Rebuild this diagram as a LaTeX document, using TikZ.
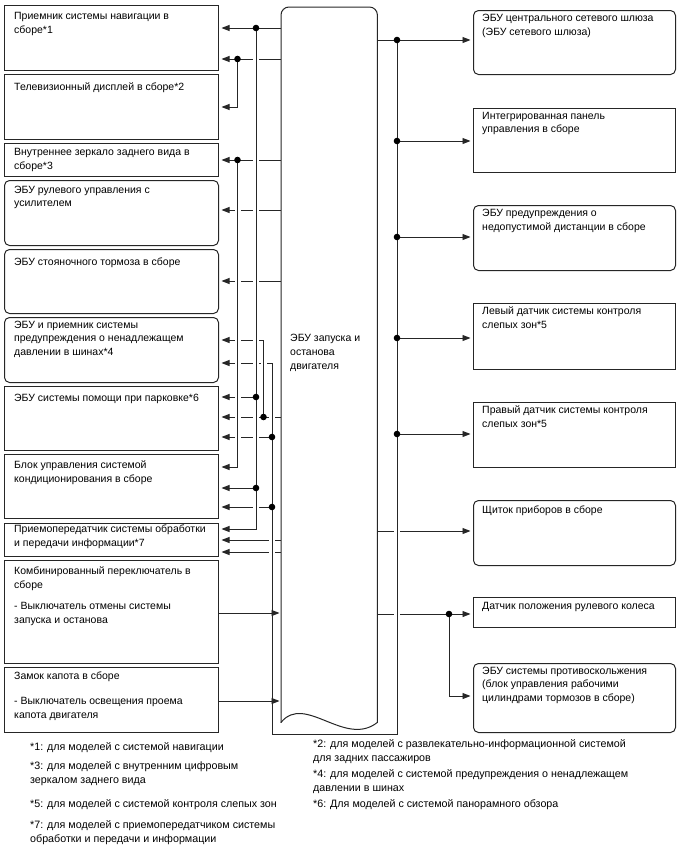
\documentclass[tikz,border=0pt]{standalone}
\usepackage{fontspec}
\setmainfont{Liberation Sans}
\usetikzlibrary{arrows.meta,positioning,calc}

\begin{document}
\begin{tikzpicture}[x=1pt, y=-1pt,
  line/.style={draw=black!85, line width=0.95pt},
  box/.style={draw=black!85, line width=1pt, anchor=north west, inner sep=0pt},
  lbox/.style={box, minimum width=214},
  rbox/.style={box, minimum width=202},
  rnd/.style={rounded corners=5pt},
  txt/.style={anchor=north west, inner sep=0pt, align=left,
    font=\fontsize{10.5}{13.8}\selectfont, execute at begin node=\strut},
  note/.style={txt, font=\fontsize{10.7}{13.8}\selectfont},
  ar/.style={line, -{Triangle[length=8pt,width=6pt]}, shorten >=2.5pt},
  bus/.style={line, line cap=rect,
    preaction={draw=white, line width=6pt, line cap=butt, shorten <=3.5pt, shorten >=3.5pt}},
  dot/.style={circle, fill=black, inner sep=0pt, minimum size=6.6pt}]
  \useasboundingbox (0,0) rectangle (688,852);

  % left column of units
  \node[lbox, minimum height=65] (nav) at (4,5) {};
  \node[txt] (nav-t) at ([shift={(10,7)}]nav.north west) {Приемник системы навигации в\\сборе*1};
  \node[lbox, minimum height=65] (tv) at (4,74) {};
  \node[txt] (tv-t) at ([shift={(10,7)}]tv.north west) {Телевизионный дисплей в сборе*2};
  \node[lbox, minimum height=33] (mir) at (4,143) {};
  \node[txt] (mir-t) at ([shift={(10,5)}]mir.north west) {Внутреннее зеркало заднего вида в\\сборе*3};
  \node[lbox, rnd, minimum height=65] (eps) at (4,180) {};
  \node[txt] (eps-t) at ([shift={(10,5.5)}]eps.north west) {ЭБУ рулевого управления с\\усилителем};
  \node[lbox, rnd, minimum height=64] (epb) at (4,249) {};
  \node[txt] (epb-t) at ([shift={(10,6.5)}]epb.north west) {ЭБУ стояночного тормоза в сборе};
  \node[lbox, rnd, minimum height=65] (tpms) at (4,317) {};
  \node[txt] (tpms-t) at ([shift={(10,3.5)}]tpms.north west) {ЭБУ и приемник системы\\предупреждения о ненадлежащем\\давлении в шинах*4};
  \node[lbox, minimum height=64] (pa) at (4,386) {};
  \node[txt] (pa-t) at ([shift={(10,6)}]pa.north west) {ЭБУ системы помощи при парковке*6};
  \node[lbox, minimum height=64] (ac) at (4,454) {};
  \node[txt] (ac-t) at ([shift={(10,6.3)}]ac.north west) {Блок управления системой\\кондиционирования в сборе};
  \node[lbox, minimum height=33] (dcm) at (4,523) {};
  \node[txt] (dcm-t) at ([shift={(10,1.5)}]dcm.north west) {Приемопередатчик системы обработки\\и передачи информации*7};
  \node[lbox, minimum height=103] (cs) at (4,560) {};
  \node[txt] (cs-t) at ([shift={(10,6.3)}]cs.north west) {Комбинированный переключатель в\\сборе\\[8pt]- Выключатель отмены системы\\запуска и останова};
  \node[lbox, minimum height=65] (hood) at (4,667) {};
  \node[txt] (hood-t) at ([shift={(10,4.5)}]hood.north west) {Замок капота в сборе\\[11pt]- Выключатель освещения проема\\капота двигателя};

  % engine stop and start ECU: rounded top, torn bottom
  \node[inner sep=0pt, minimum width=96, minimum height=715, anchor=north west] (ecu) at (281,7) {};
  \draw[line, line width=1pt, line cap=round, rounded corners=8pt]
    (ecu.south west) -- (ecu.north west) -- (ecu.north east) -- (ecu.south east);
  \draw[line, line width=1pt, line cap=round]
    (ecu.south east) .. controls (345,748) and (305,693) .. (ecu.south west);
  \node[txt] (ecu-t) at (290,334) {ЭБУ запуска и\\останова\\двигателя};

  % right column of units
  \node[rbox, rnd, minimum height=64] (gw) at (473,10) {};
  \node[txt] (gw-t) at ([shift={(9,3.7)}]gw.north west) {ЭБУ центрального сетевого шлюза\\(ЭБУ сетевого шлюза)};
  \node[rbox, minimum height=64] (panel) at (473,108) {};
  \node[txt] (panel-t) at ([shift={(9,3.7)}]panel.north west) {Интегрированная панель\\управления в сборе};
  \node[rbox, rnd, minimum height=65] (cws) at (473,205) {};
  \node[txt] (cws-t) at ([shift={(9,3.7)}]cws.north west) {ЭБУ предупреждения о\\недопустимой дистанции в сборе};
  \node[rbox, minimum height=66] (bsml) at (473,303) {};
  \node[txt] (bsml-t) at ([shift={(9,3.7)}]bsml.north west) {Левый датчик системы контроля\\слепых зон*5};
  \node[rbox, minimum height=65] (bsmr) at (473,402) {};
  \node[txt] (bsmr-t) at ([shift={(9,3.7)}]bsmr.north west) {Правый датчик системы контроля\\слепых зон*5};
  \node[rbox, rnd, minimum height=65] (meter) at (473,500) {};
  \node[txt] (meter-t) at ([shift={(9,3.7)}]meter.north west) {Щиток приборов в сборе};
  \node[rbox, minimum height=30] (sas) at (473,597) {};
  \node[txt] (sas-t) at ([shift={(9,2.8)}]sas.north west) {Датчик положения рулевого колеса};
  \node[rbox, rnd, minimum height=69] (vsc) at (473,663) {};
  \node[txt] (vsc-t) at ([shift={(9,3.5)}]vsc.north west) {ЭБУ системы противоскольжения\\(блок управления рабочими\\цилиндрами тормозов в сборе)};

  % junctions
  \coordinate (a1) at (256,28);   \coordinate (a2) at (256,397);
  \coordinate (a3) at (256,488);  \coordinate (b1) at (237.5,59);
  \coordinate (c1) at (237.5,160);\coordinate (d1) at (263.5,417);
  \coordinate (f0) at (272,363);  \coordinate (f1) at (272,437);
  \coordinate (f2) at (272,507);
  \coordinate (r1) at (397,40);   \coordinate (r2) at (397,141);
  \coordinate (r3) at (397,237);  \coordinate (r4) at (397,338);
  \coordinate (r5) at (397,434);  \coordinate (s1) at (449,614);

  % left side wiring
  \draw[ar] (ecu.west |- a1) -- (nav.east |- a1);
  \draw[ar] (ecu.west |- b1) -- (nav.east |- b1);
  \draw[ar] (b1) |- (tv.east |- 0,107);
  \draw[ar] (ecu.west |- c1) -- (mir.east |- c1);
  \draw[ar] (ecu.west |- 0,210) -- (eps.east |- 0,210);
  \draw[ar] (ecu.west |- 0,281) -- (epb.east |- 0,281);
  \draw[ar] (d1) |- (tpms.east |- 0,340);
  \draw[ar] (f0) -- (tpms.east |- f0);
  \draw[ar] (a2) -- (pa.east |- a2);
  \draw[ar] (ecu.west |- d1) -- (pa.east |- d1);
  \draw[ar] (f1) -- (pa.east |- f1);
  \draw[ar] (c1) |- (ac.east |- 0,467);
  \draw[ar] (a3) -- (ac.east |- a3);
  \draw[ar] (f2) -- (ac.east |- f2);
  \draw[ar] (a1) |- (dcm.east |- 0,529);
  \draw[ar] (ecu.west |- 0,540) -- (dcm.east |- 0,540);
  \draw[ar] (ecu.west |- 0,552) -- (dcm.east |- 0,552);
  \draw[line] (f0) -- (272,734) -- (397,734) -- (r1);

  % right side wiring
  \draw[ar] (ecu.east |- r1) -- (gw.west |- r1);
  \draw[ar] (r2) -- (panel.west |- r2);
  \draw[ar] (r3) -- (cws.west |- r3);
  \draw[ar] (r4) -- (bsml.west |- r4);
  \draw[ar] (r5) -- (bsmr.west |- r5);
  \draw[ar] (ecu.east |- 0,531) -- (meter.west |- 0,531);
  \draw[ar] (ecu.east |- s1) -- (sas.west |- s1);
  \draw[ar] (s1) |- (vsc.west |- 0,696);

  % line hops where the vertical runs cross
  \draw[bus] (a1) -- (256,529);
  \draw[bus] (c1) -- (237.5,467);
  \draw[bus] (263.5,340) -- (d1);
  \draw[bus] (f0) -- (272,734);
  \draw[bus] (397,734) -- (r1);

  % switch inputs into the ECU
  \draw[ar, shorten >=1.5pt] (cs.east |- 0,613) -- (ecu.west |- 0,613);
  \draw[ar, shorten >=1.5pt] (hood.east |- 0,701) -- (ecu.west |- 0,701);

  \foreach \p in {a1,a2,a3,b1,c1,d1,f1,f2,r1,r2,r3,r4,r5,s1}
    \node[dot] (\p-dot) at (\p) {};

  % notes
  \node[note] (n1) at (30,740.3) {*1: для моделей с системой навигации};
  \node[note] (n3) at (30,761.3) {*3: для моделей с внутренним цифровым\\зеркалом заднего вида};
  \node[note] (n5) at (30,797.3) {*5: для моделей с системой контроля слепых зон};
  \node[note] (n7) at (30,820.3) {*7: для моделей с приемопередатчиком системы\\обработки и передачи и информации};
  \node[note] (n2) at (313,739.3) {*2: для моделей с развлекательно-информационной системой\\для задних пассажиров};
  \node[note] (n4) at (313,769.3) {*4: для моделей с системой предупреждения о ненадлежащем\\давлении в шинах};
  \node[note] (n6) at (313,797.3) {*6: Для моделей с системой панорамного обзора};
\end{tikzpicture}
\end{document}
